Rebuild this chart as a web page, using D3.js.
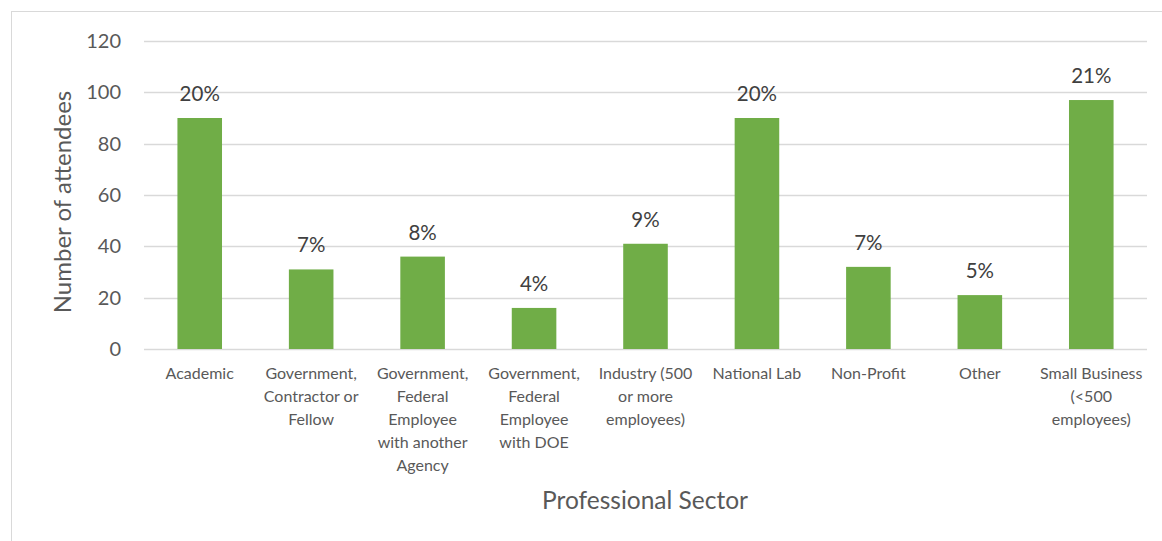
<!DOCTYPE html>
<html>
<head>
<meta charset="utf-8">
<script src="https://cdn.jsdelivr.net/npm/d3@7"></script>
<style>
  body { margin: 0; background: #fff; }
  svg text { font-family: Lato, "Open Sans", sans-serif; }
</style>
</head>
<body>
<div id="chart"></div>
<script>
// data
var categories = [
  ["Academic"],
  ["Government,", "Contractor or", "Fellow"],
  ["Government,", "Federal", "Employee", "with another", "Agency"],
  ["Government,", "Federal", "Employee", "with DOE"],
  ["Industry (500", "or more", "employees)"],
  ["National Lab"],
  ["Non-Profit"],
  ["Other"],
  ["Small Business", "(<500", "employees)"]
];
var attendees = [90, 31, 36, 16, 41, 90, 32, 21, 97];
var percentLabels = ["20%", "7%", "8%", "4%", "9%", "20%", "7%", "5%", "21%"];
var yTicks = [0, 20, 40, 60, 80, 100, 120];

var W = 1162, H = 541;
var plot = {left: 144, right: 1147, top: 41, bottom: 349};
var barColor = '#70ad47';

var svg = d3.select('#chart')
    .append('svg')
    .attr('width', W)
    .attr('height', H);

// chart border
svg.append('rect')
    .attr('x', 11.5).attr('y', 11.5)
    .attr('width', W + 10).attr('height', H + 10)
    .attr('fill', 'none')
    .attr('stroke', '#d9d9d9');

var x = d3.scaleBand()
    .domain(d3.range(categories.length))
    .range([plot.left, plot.right])
    .paddingInner(0.6)
    .paddingOuter(0.3);

var y = d3.scaleLinear()
    .domain([0, 120])
    .range([plot.bottom, plot.top]);

// gridlines
svg.append('g')
    .selectAll('line')
    .data(yTicks)
    .enter().append('line')
    .attr('x1', plot.left)
    .attr('x2', plot.right)
    .attr('y1', function(d){ return Math.round(y(d)) + 0.5; })
    .attr('y2', function(d){ return Math.round(y(d)) + 0.5; })
    .style('stroke', '#d9d9d9')
    .style('stroke-width', 1.3);

// y axis labels
var yAxis = d3.axisLeft(y).tickValues(yTicks).tickSize(0).tickPadding(0);
var gy = svg.append('g')
    .attr('transform', 'translate(121,0)')
    .call(yAxis);
gy.select('.domain').remove();
gy.selectAll('text')
    .style('font-size', '20px')
    .style('fill', '#595959');

// bars
svg.append('g')
    .selectAll('rect')
    .data(attendees)
    .enter().append('rect')
    .attr('x', function(d, i){ return x(i); })
    .attr('width', x.bandwidth())
    .attr('y', function(d){ return y(d); })
    .attr('height', function(d){ return y(0) - y(d); })
    .attr('fill', barColor);

// percent labels
svg.append('g')
    .selectAll('text')
    .data(attendees)
    .enter().append('text')
    .attr('x', function(d, i){ return x(i) + x.bandwidth() / 2; })
    .attr('y', function(d){ return y(d) - 17; })
    .attr('text-anchor', 'middle')
    .style('font-size', '20.5px')
    .style('fill', '#404040')
    .text(function(d, i){ return percentLabels[i]; });

// category labels
var cat = svg.append('g')
    .selectAll('text')
    .data(categories)
    .enter().append('text')
    .attr('text-anchor', 'middle')
    .attr('x', function(d, i){ return x(i) + x.bandwidth() / 2; })
    .attr('y', 379)
    .style('font-size', '16px')
    .style('fill', '#595959');
cat.selectAll('tspan')
    .data(function(d){ return d; })
    .enter().append('tspan')
    .attr('x', function(){ return d3.select(this.parentNode).attr('x'); })
    .attr('dy', function(d, j){ return j === 0 ? 0 : 23; })
    .text(function(d){ return d; });

// axis titles
svg.append('text')
    .attr('x', 645).attr('y', 509)
    .attr('text-anchor', 'middle')
    .style('font-size', '24.5px')
    .style('fill', '#595959')
    .text('Professional Sector');

svg.append('text')
    .attr('transform', 'translate(71,202) rotate(-90)')
    .attr('text-anchor', 'middle')
    .style('font-size', '24px')
    .style('fill', '#595959')
    .text('Number of attendees');
</script>
</body>
</html>
